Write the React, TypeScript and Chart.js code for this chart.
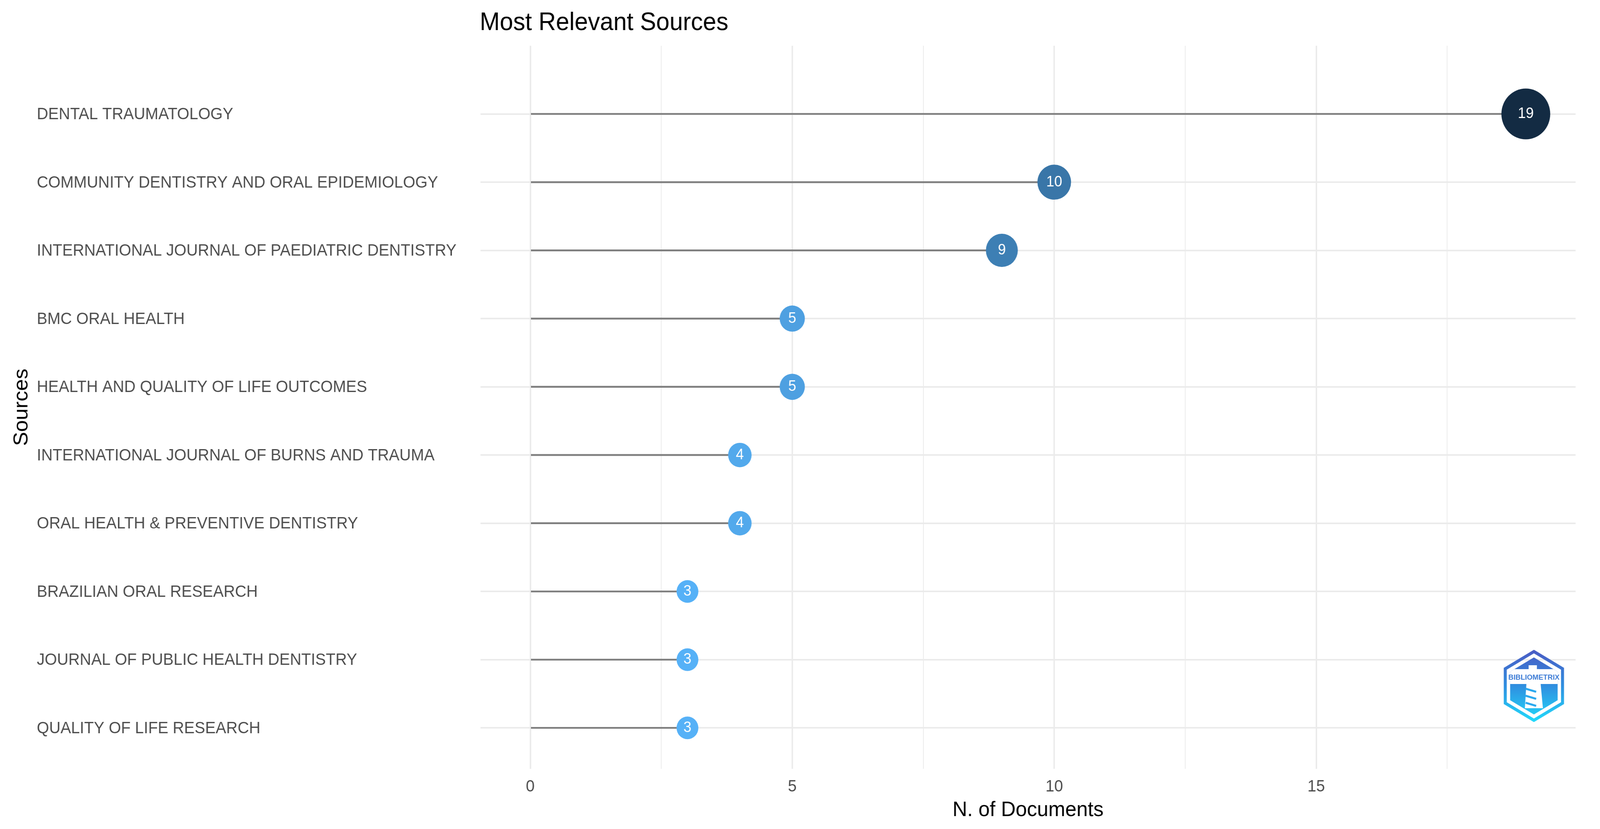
import React, { useEffect, useRef } from "react";
import { Chart, registerables } from "chart.js";
Chart.register(...registerables);

const sources = [
  "DENTAL TRAUMATOLOGY",
  "COMMUNITY DENTISTRY AND ORAL EPIDEMIOLOGY",
  "INTERNATIONAL JOURNAL OF PAEDIATRIC DENTISTRY",
  "BMC ORAL HEALTH",
  "HEALTH AND QUALITY OF LIFE OUTCOMES",
  "INTERNATIONAL JOURNAL OF BURNS AND TRAUMA",
  "ORAL HEALTH & PREVENTIVE DENTISTRY",
  "BRAZILIAN ORAL RESEARCH",
  "JOURNAL OF PUBLIC HEALTH DENTISTRY",
  "QUALITY OF LIFE RESEARCH",
];
const documents = [19, 10, 9, 5, 5, 4, 4, 3, 3, 3];
const xTickValues = [0, 2.5, 5, 7.5, 10, 12.5, 15, 17.5];
const xTickLabels = ["0", "", "5", "", "10", "", "15", ""];
const chartTitle = "Most Relevant Sources";
const xTitle = "N. of Documents";
const yTitle = "Sources";

const FONT = "'Liberation Sans', Arial, Helvetica, sans-serif";
const LOW = [86, 177, 247];
const HIGH = [19, 43, 67];
const vMin = Math.min(...documents);
const vMax = Math.max(...documents);

function colorFor(v: number) {
  const t = (v - vMin) / (vMax - vMin || 1);
  const c = LOW.map((l, k) => Math.round(l + (HIGH[k] - l) * t));
  return `rgb(${c[0]},${c[1]},${c[2]})`;
}
function radiusFor(v: number) {
  return 22.25 + 2.25 * v;
}
const rowPos = (i: number) => sources.length - i;

function hexPath(ctx: CanvasRenderingContext2D, cx: number, cy: number, R: number) {
  ctx.beginPath();
  for (let k = 0; k < 6; k++) {
    const a = -Math.PI / 2 + (k * Math.PI) / 3;
    const px = cx + R * Math.cos(a);
    const py = cy + R * Math.sin(a);
    if (k === 0) ctx.moveTo(px, py);
    else ctx.lineTo(px, py);
  }
  ctx.closePath();
}

const decorPlugin = {
  id: "decor",
  afterDatasetsDraw(chart: any) {
    const ctx: CanvasRenderingContext2D = chart.ctx;
    const meta = chart.getDatasetMeta(1);
    ctx.save();
    ctx.fillStyle = "#ffffff";
    ctx.font = `38px ${FONT}`;
    ctx.textAlign = "center";
    ctx.textBaseline = "middle";
    meta.data.forEach((el: any, i: number) => {
      ctx.fillText(String(documents[i]), el.x, el.y);
    });
    ctx.restore();
  },
  afterDraw(chart: any) {
    const ctx: CanvasRenderingContext2D = chart.ctx;
    const area = chart.chartArea;
    ctx.save();
    // title
    ctx.fillStyle = "#000000";
    ctx.font = `64px ${FONT}`;
    ctx.textAlign = "left";
    ctx.textBaseline = "alphabetic";
    ctx.fillText(chartTitle, area.left - 2, 77);
    // y axis title
    ctx.save();
    ctx.translate(73, (area.top + area.bottom) / 2);
    ctx.rotate(-Math.PI / 2);
    ctx.font = `54px ${FONT}`;
    ctx.textAlign = "center";
    ctx.fillText(yTitle, 0, 0);
    ctx.restore();

    // logo
    const cx = 4083;
    const cy = 1755;
    const g = ctx.createLinearGradient(0, cy - 92, 0, cy + 92);
    g.addColorStop(0, "#4a5bc4");
    g.addColorStop(0.5, "#2f8fe0");
    g.addColorStop(1, "#22dafb");
    hexPath(ctx, cx, cy, 88);
    ctx.strokeStyle = g;
    ctx.lineWidth = 8;
    ctx.stroke();
    hexPath(ctx, cx, cy, 73);
    ctx.fillStyle = g;
    ctx.fill();
    ctx.save();
    hexPath(ctx, cx, cy, 73);
    ctx.clip();
    ctx.fillStyle = "#ffffff";
    ctx.fillRect(cx - 80, 1712, 160, 38);
    // lighthouse
    ctx.fillRect(cx - 14, 1702, 22, 14);
    ctx.fillRect(cx - 20, 1716, 34, 14);
    ctx.beginPath();
    ctx.moveTo(cx - 20, 1750);
    ctx.lineTo(cx + 18, 1750);
    ctx.lineTo(cx + 24, 1812);
    ctx.lineTo(cx - 24, 1812);
    ctx.closePath();
    ctx.fill();
    ctx.strokeStyle = "#2aa8ee";
    ctx.lineWidth = 5;
    for (let k = 0; k < 3; k++) {
      ctx.beginPath();
      ctx.moveTo(cx - 22, 1762 + k * 18);
      ctx.lineTo(cx + 6, 1770 + k * 18);
      ctx.stroke();
    }
    ctx.restore();
    ctx.font = `bold 19px ${FONT}`;
    ctx.textAlign = "center";
    ctx.textBaseline = "middle";
    ctx.lineWidth = 4;
    ctx.strokeStyle = "#ffffff";
    ctx.strokeText("BIBLIOMETRIX", cx, 1734);
    ctx.fillStyle = "#3b7bd6";
    ctx.fillText("BIBLIOMETRIX", cx, 1734);
    ctx.restore();
  },
};

export default function App() {
  const ref = useRef<HTMLCanvasElement | null>(null);
  useEffect(() => {
    document.body.style.margin = "0";
    document.body.style.overflow = "hidden";
    const canvas = ref.current;
    if (!canvas) return;
    const points = documents.map((v, i) => ({ x: v, y: rowPos(i) }));
    const chart = new Chart(canvas, {
      type: "bar",
      data: {
        datasets: [
          {
            type: "bar",
            data: points,
            backgroundColor: "#7f7f7f",
            barThickness: 4,
            order: 2,
          } as any,
          {
            type: "scatter",
            data: points,
            pointRadius: (c: any) => radiusFor(c.raw.x),
            pointHoverRadius: (c: any) => radiusFor(c.raw.x),
            pointBackgroundColor: (c: any) => colorFor(c.raw.x),
            pointBorderWidth: 0,
            order: 1,
          } as any,
        ],
      },
      options: {
        indexAxis: "y",
        responsive: false,
        animation: false,
        devicePixelRatio: 1,
        events: [],
        layout: { padding: { left: 98, right: 41, top: 117, bottom: 0 } },
        plugins: { legend: { display: false }, tooltip: { enabled: false }, title: { display: false } },
        scales: {
          x: {
            type: "linear",
            min: -0.95,
            max: 19.95,
            afterBuildTicks: (s: any) => {
              s.ticks = xTickValues.map((v) => ({ value: v }));
            },
            afterFit: (s: any) => {
              s.height = 2121 - 1967;
            },
            ticks: {
              autoSkip: false,
              maxRotation: 0,
              padding: 21,
              color: "#4d4d4d",
              font: { family: FONT, size: 42 },
              callback: (v: any) => xTickLabels[xTickValues.indexOf(Number(v))] ?? "",
            },
            grid: {
              color: "#ebebeb",
              lineWidth: (c: any) => (c.tick && c.tick.value % 5 === 0 ? 4 : 2),
              drawTicks: false,
            },
            border: { display: false },
            title: {
              display: true,
              text: xTitle,
              color: "#000000",
              font: { family: FONT, size: 54 },
              padding: { top: 0, bottom: 15 },
            },
          },
          y: {
            type: "linear",
            min: 0.4,
            max: 11.0,
            offset: false,
            afterBuildTicks: (s: any) => {
              s.ticks = sources.map((_, i) => ({ value: rowPos(i) }));
            },
            afterFit: (s: any) => {
              s.width = 1279 - 98;
            },
            ticks: {
              autoSkip: false,
              crossAlign: "far",
              padding: 0,
              labelOffset: 2,
              color: "#4d4d4d",
              font: { family: FONT, size: 42 },
              callback: (v: any) => sources[sources.length - Number(v)] ?? "",
            },
            grid: { color: "#ebebeb", lineWidth: 4, drawTicks: false, offset: false },
            border: { display: false },
          },
        },
      } as any,
      plugins: [decorPlugin],
    });
    return () => chart.destroy();
  }, []);
  return (
    <div style={{ width: "100vw", height: "100vh" }}>
      <canvas ref={ref} width={4259} height={2121} style={{ display: "block", width: "100vw", height: "100vh" }} />
    </div>
  );
}
